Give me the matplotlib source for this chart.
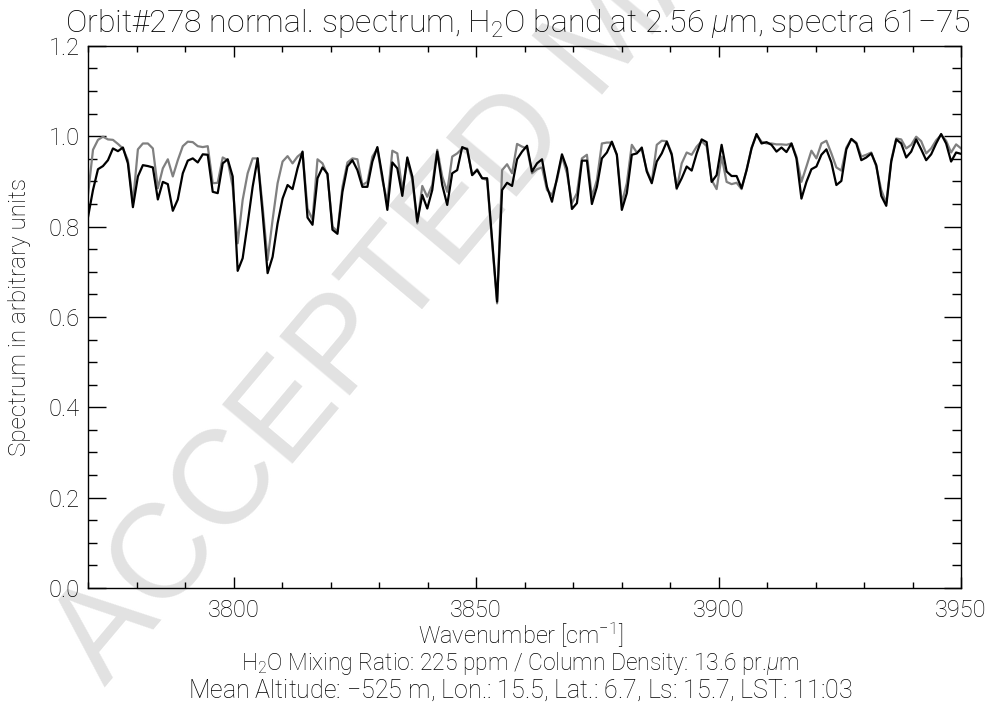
import numpy as np
import matplotlib
matplotlib.use("Agg")
import matplotlib.pyplot as plt
from matplotlib.ticker import MultipleLocator

# PFS spectrum, orbit 278, spectra 61-75 (averaged), 3770-3950 cm-1
wn_start = 3770.0
wn_step = 1.0286

# measured normalised spectrum (black)
measured = [
    0.821, 0.881, 0.927, 0.934, 0.947, 0.973, 0.967, 0.975, 0.940, 0.843,
    0.911, 0.936, 0.934, 0.931, 0.860, 0.899, 0.894, 0.835, 0.860, 0.918,
    0.946, 0.951, 0.942, 0.960, 0.959, 0.877, 0.874, 0.940, 0.949, 0.911,
    0.702, 0.730, 0.807, 0.888, 0.951, 0.829, 0.697, 0.733, 0.807, 0.862,
    0.892, 0.883, 0.929, 0.966, 0.820, 0.804,
    0.907, 0.931, 0.917, 0.793, 0.784, 0.877, 0.933, 0.947, 0.925, 0.888,
    0.888, 0.944, 0.976, 0.911, 0.837, 0.942, 0.929, 0.868, 0.953, 0.911,
    0.811, 0.870, 0.840, 0.881, 0.966, 0.892, 0.848, 0.918, 0.925, 0.976,
    0.971, 0.914, 0.925, 0.907, 0.907, 0.770, 0.634, 0.881, 0.897, 0.890,
    0.949, 0.966, 0.979,
    0.922, 0.940, 0.949, 0.888, 0.855, 0.907, 0.960, 0.929, 0.839, 0.852,
    0.946, 0.946, 0.850, 0.888, 0.951, 0.964, 0.988, 0.959, 0.837, 0.874,
    0.959, 0.962, 0.975, 0.922, 0.896, 0.944, 0.962, 0.988, 0.959, 0.885,
    0.907, 0.933, 0.924, 0.962, 0.993, 0.987, 0.899, 0.914, 0.981, 0.922,
    0.912, 0.912, 0.885, 0.925,
    0.973, 1.005, 0.984, 0.987, 0.981, 0.966, 0.975, 0.965, 0.984, 0.951,
    0.862, 0.899, 0.927, 0.933, 0.959, 0.971, 0.942, 0.892, 0.901, 0.971,
    0.994, 0.984, 0.947, 0.953, 0.962, 0.936, 0.868, 0.846, 0.944, 0.993,
    0.984, 0.953, 0.966, 0.993, 0.971, 0.947, 0.960, 0.984, 1.005, 0.984,
    0.944, 0.964, 0.961,
]

# synthetic best-fit spectrum (gray)
synthetic = [
    0.870, 0.970, 0.992, 0.999, 0.993, 0.992, 0.983, 0.973, 0.947, 0.852,
    0.971, 0.984, 0.984, 0.973, 0.885, 0.929, 0.949, 0.911, 0.947, 0.978,
    0.988, 0.987, 0.978, 0.976, 0.978, 0.896, 0.897, 0.953, 0.947, 0.888,
    0.763, 0.859, 0.918, 0.951, 0.951, 0.844, 0.726, 0.815, 0.896, 0.944,
    0.956, 0.940, 0.955, 0.964, 0.840, 0.815,
    0.949, 0.940, 0.914, 0.800, 0.789, 0.888, 0.942, 0.951, 0.949, 0.892,
    0.899, 0.955, 0.973, 0.903, 0.855, 0.968, 0.962, 0.881, 0.947, 0.903,
    0.807, 0.890, 0.866, 0.892, 0.970, 0.911, 0.877, 0.955, 0.962, 0.973,
    0.973, 0.914, 0.927, 0.907, 0.903, 0.763, 0.630, 0.925, 0.938, 0.918,
    0.983, 0.977, 0.973,
    0.918, 0.927, 0.931, 0.881, 0.870, 0.903, 0.955, 0.918, 0.852, 0.874,
    0.951, 0.959, 0.866, 0.903, 0.984, 0.986, 0.986, 0.959, 0.852, 0.896,
    0.981, 0.964, 0.971, 0.925, 0.899, 0.981, 0.990, 0.989, 0.962, 0.883,
    0.940, 0.964, 0.959, 0.977, 0.989, 0.978, 0.903, 0.883, 0.955, 0.899,
    0.894, 0.897, 0.883, 0.925,
    0.975, 1.003, 0.988, 0.984, 0.984, 0.982, 0.982, 0.981, 0.984, 0.955,
    0.899, 0.933, 0.968, 0.951, 0.984, 0.990, 0.962, 0.931, 0.924, 0.975,
    0.994, 0.986, 0.955, 0.959, 0.964, 0.933, 0.881, 0.852, 0.947, 0.995,
    0.993, 0.973, 0.981, 0.999, 0.989, 0.962, 0.973, 0.991, 1.003, 0.990,
    0.964, 0.982, 0.973,
]

wn = wn_start + wn_step * np.arange(len(measured))

title = r"Orbit#278 normal. spectrum, H$_2$O band at 2.56 $\mu$m, spectra 61$-$75"
info1 = r"H$_2$O Mixing Ratio: 225 ppm / Column Density: 13.6 pr.$\mu$m"
info2 = r"Mean Altitude: $-$525 m, Lon.: 15.5, Lat.: 6.7, Ls: 15.7, LST: 11:03"

plt.rcParams["font.family"] = ["Roboto", "DejaVu Sans"]
plt.rcParams["font.weight"] = "light"
plt.rcParams["mathtext.fontset"] = "custom"
plt.rcParams["mathtext.rm"] = "Roboto:light"
plt.rcParams["mathtext.it"] = "Roboto:italic:light"

fig = plt.figure(figsize=(9.91, 7.04), dpi=100)
ax = fig.add_axes([0.0888, 0.1648, 0.881, 0.770])
ax.set_facecolor("none")

# watermark
fig.text(0.106, 0.023, "ACCEPTED MANUSCRIPT", fontsize=96, color="#e2e2e2",
         family="Liberation Sans", weight="normal", rotation=50,
         rotation_mode="anchor", ha="left", va="baseline", zorder=-5)

ax.plot(wn, synthetic, color="#808080", lw=1.6, zorder=2)
ax.plot(wn, measured, color="black", lw=1.6, zorder=3)

ax.set_xlim(3770, 3950)
ax.set_ylim(0.0, 1.2)
ax.xaxis.set_major_locator(MultipleLocator(50))
ax.xaxis.set_minor_locator(MultipleLocator(10))
ax.yaxis.set_major_locator(MultipleLocator(0.2))
ax.yaxis.set_minor_locator(MultipleLocator(0.05))
ax.yaxis.set_major_formatter(plt.FormatStrFormatter("%.1f"))

for s in ax.spines.values():
    s.set_linewidth(1.0)
ax.tick_params(axis="x", which="major", direction="in", length=8, width=1,
               top=True, labelsize=17, pad=8)
ax.tick_params(axis="x", which="minor", direction="in", length=4, width=1, top=True)
ax.tick_params(axis="y", which="major", direction="in", length=12.6, width=1,
               right=True, labelsize=17, pad=6)
ax.tick_params(axis="y", which="minor", direction="in", length=6.3, width=1, right=True)

fig.text(0.523, 0.966, title, ha="center", va="center", fontsize=23)
fig.text(0.020, 0.55, "Spectrum in arbitrary units", rotation=90,
         ha="center", va="center", fontsize=17.5)
fig.text(0.525, 0.098, r"Wavenumber [cm$^{-1}$]", ha="center", va="center", fontsize=17)
fig.text(0.525, 0.057, info1, ha="center", va="center", fontsize=16.5)
fig.text(0.525, 0.019, info2, ha="center", va="center", fontsize=18)

fig.savefig("out.png", dpi=100)
